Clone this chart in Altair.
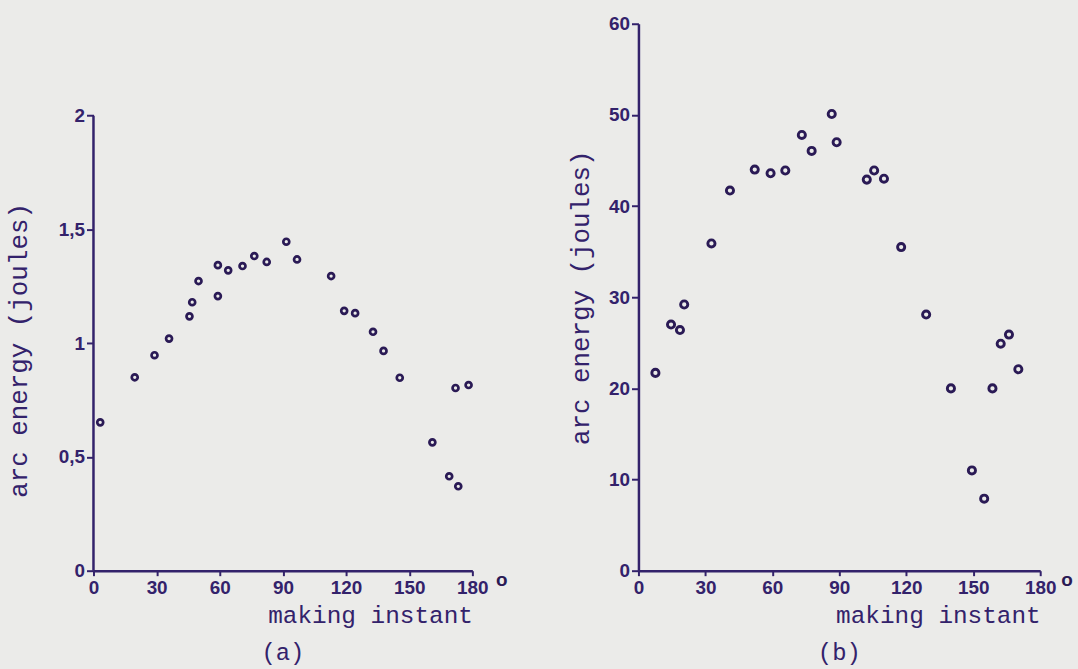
import altair as alt
import pandas as pd

# Panel (a): arc energy (joules) vs making instant (degrees)
a_instant = [3.2, 19.6, 29, 35.9, 45.6, 46.9, 49.9, 59.1, 59.1, 64, 70.8, 76.4, 82.3, 91.6, 96.7,
             112.9, 119.1, 124.3, 132.8, 137.8, 145.5, 161, 169, 172, 173.3, 178.2]
a_energy = [0.652, 0.85, 0.947, 1.02, 1.118, 1.18, 1.273, 1.343, 1.207, 1.32, 1.339, 1.383, 1.357,
            1.446, 1.368, 1.295, 1.142, 1.132, 1.05, 0.966, 0.848, 0.564, 0.415, 0.803, 0.371, 0.816]

# Panel (b)
b_instant = [7.6, 14.6, 18.6, 20.5, 32.7, 41, 52.1, 59.2, 65.8, 73.2, 77.6, 86.6, 88.8, 102.3, 105.6,
             110, 117.7, 128.9, 140, 149.4, 154.9, 158.6, 162.3, 166, 170.2]
b_energy = [21.7, 27.0, 26.4, 29.2, 35.9, 41.7, 44.0, 43.6, 43.9, 47.8, 46.05, 50.1, 47.0, 42.9, 43.9,
            43.0, 35.5, 28.1, 20.0, 11.0, 7.9, 20.0, 24.9, 25.9, 22.1]

x_ticks = [0, 30, 60, 90, 120, 150, 180]
a_yticks = [0, 0.5, 1, 1.5, 2]
b_yticks = [0, 10, 20, 30, 40, 50, 60]
degree_sign = ["o"]  # typed degree mark after the 180 label

INK = "#33226b"
PT = "#2a1a55"
BG = "#ebebe9"
MONO = "Liberation Mono"
SANS = "Liberation Sans"

df_a = pd.DataFrame({"instant": a_instant, "energy": a_energy})
df_b = pd.DataFrame({"instant": b_instant, "energy": b_energy})
df_deg = pd.DataFrame({"sign": degree_sign})
df_one = pd.DataFrame({"k": [0]})


def xaxis():
    return alt.Axis(values=x_ticks, title="making instant", titleFont=MONO, titleFontSize=24.5,
                    titleFontWeight="normal", titleColor=INK, titleAnchor="end", titlePadding=6,
                    labelFont=SANS, labelFontSize=19, labelFontWeight="bold", labelColor=INK,
                    labelPadding=3, tickSize=5, tickColor=INK, tickWidth=2,
                    domainColor=INK, domainWidth=2.5, grid=False, labelFlush=False)


def yaxis(values, domain, expr, pad, ty=None):
    kw = {}
    if ty is not None:
        kw["titleY"] = ty
    return alt.Axis(values=values, title="arc energy (joules)", titleFont=MONO, titleFontSize=26,
                    titleFontWeight="normal", titleColor=INK, titlePadding=pad,
                    labelFont=SANS, labelFontSize=19, labelFontWeight="bold", labelColor=INK,
                    labelPadding=2, tickSize=7, tickColor=INK, tickWidth=2, labelExpr=expr,
                    domain=domain, domainColor=INK, domainWidth=2.5, grid=False, labelFlush=False,
                    **kw)


def degree(xpos):
    return alt.Chart(df_deg).mark_text(font=SANS, fontSize=19, fontWeight="bold", color=PT,
                                       baseline="middle", dy=9).encode(
        x=alt.datum(xpos), y=alt.datum(0), text="sign:N")


# (a)
a_x = alt.X("instant:Q", scale=alt.Scale(domain=[0, 180], nice=False, zero=False), axis=xaxis())
a_y = alt.Y("energy:Q", scale=alt.Scale(domain=[0, 2.404], nice=False),
            axis=yaxis(a_yticks, False, "replace(format(datum.value, '~g'), '.', ',')", 27, 328))
pts_a = alt.Chart(df_a).mark_point(shape="circle", filled=False, size=36, strokeWidth=2.7,
                                   color=PT, opacity=1).encode(x=a_x, y=a_y)
axis_a = alt.Chart(df_one).mark_rule(color=INK, strokeWidth=2.5).encode(
    x=alt.datum(0), y=alt.datum(0), y2=alt.datum(2))
chart_a = alt.layer(axis_a, pts_a, degree(194)).properties(
    width=381, height=550,
    title=alt.TitleParams("(a)", orient="bottom", anchor="middle", font=MONO, fontSize=24,
                          fontWeight="normal", color=INK, offset=14))

# (b)
b_x = alt.X("instant:Q", scale=alt.Scale(domain=[0, 180], nice=False, zero=False), axis=xaxis())
b_y = alt.Y("energy:Q", scale=alt.Scale(domain=[0, 60], nice=False),
            axis=yaxis(b_yticks, True, "datum.label", 15))
pts_b = alt.Chart(df_b).mark_point(shape="circle", filled=False, size=52, strokeWidth=2.9,
                                   color=PT, opacity=1).encode(x=b_x, y=b_y)
chart_b = alt.layer(pts_b, degree(192)).properties(
    width=404, height=550,
    title=alt.TitleParams("(b)", orient="bottom", anchor="middle", font=MONO, fontSize=24,
                          fontWeight="normal", color=INK, offset=14))

chart = alt.hconcat(chart_a, chart_b, spacing=59).properties(
    background=BG,
    padding={"top": 13, "left": 5, "right": 5, "bottom": 5},
).configure_view(stroke=None)

chart.save("out.html", embed_options={"renderer": "svg", "actions": False})
